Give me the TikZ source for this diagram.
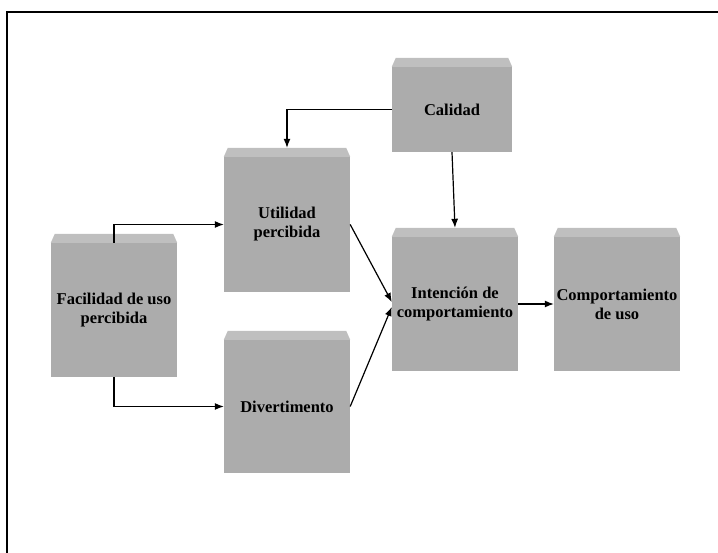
\documentclass[tikz,border=0pt]{standalone}
\usepackage{fontspec}
\setmainfont{Liberation Serif}
\usetikzlibrary{arrows.meta}
\begin{document}
\begin{tikzpicture}
        [x=1pt, y=-1pt, >={Latex[length=9pt,width=7pt]},
        bloque/.style={rectangle, fill=gray!65, inner sep=0pt, minimum width=126pt, minimum height=135pt, align=center, font=\fontsize{16.5}{19}\selectfont\bfseries},
        flecha/.style={line width=1.2pt, ->}]
        \useasboundingbox (0,0) rectangle (718,553);
        \draw[line width=2pt] (7,560) -- (7,12.5) -- (730,12.5);

        \node[bloque, minimum width=120pt, minimum height=85pt] (cal) at (452,109.5) {Calidad};
        \node[bloque] (uti) at (287,224.5) {Utilidad\\percibida};
        \node[bloque, minimum height=134pt] (fac) at (114,310) {Facilidad de uso\\percibida};
        \node[bloque, minimum height=133pt] (div) at (287,406.5) {Divertimento};
        \node[bloque, minimum height=134pt] (int) at (455,304) {Intención de\\comportamiento};
        \node[bloque, minimum height=134pt] (com) at (617,304) {Comportamiento\\de uso};

        % bisel superior
        \foreach \n in {cal,uti,fac,div,int,com}
            \fill[gray!50] (\n.north west) -- ([shift={(4pt,9pt)}]\n.north west) -- ([shift={(-4pt,9pt)}]\n.north east) -- (\n.north east) -- cycle;

        \draw[flecha] (fac.north) |- (uti.west);
        \draw[flecha] (fac.south) |- (div.west);
        \draw[flecha] (cal.west) -| ([yshift=9pt]uti.north);
        \draw[flecha] (cal.south) -- ([yshift=9pt]int.north);
        \draw[flecha] (uti.east) -- ([yshift=2pt]int.west);
        \draw[flecha] (div.east) -- ([yshift=-3pt]int.west);
        \draw[flecha] (int.east) -- (com.west);

    \end{tikzpicture}
\end{document}
